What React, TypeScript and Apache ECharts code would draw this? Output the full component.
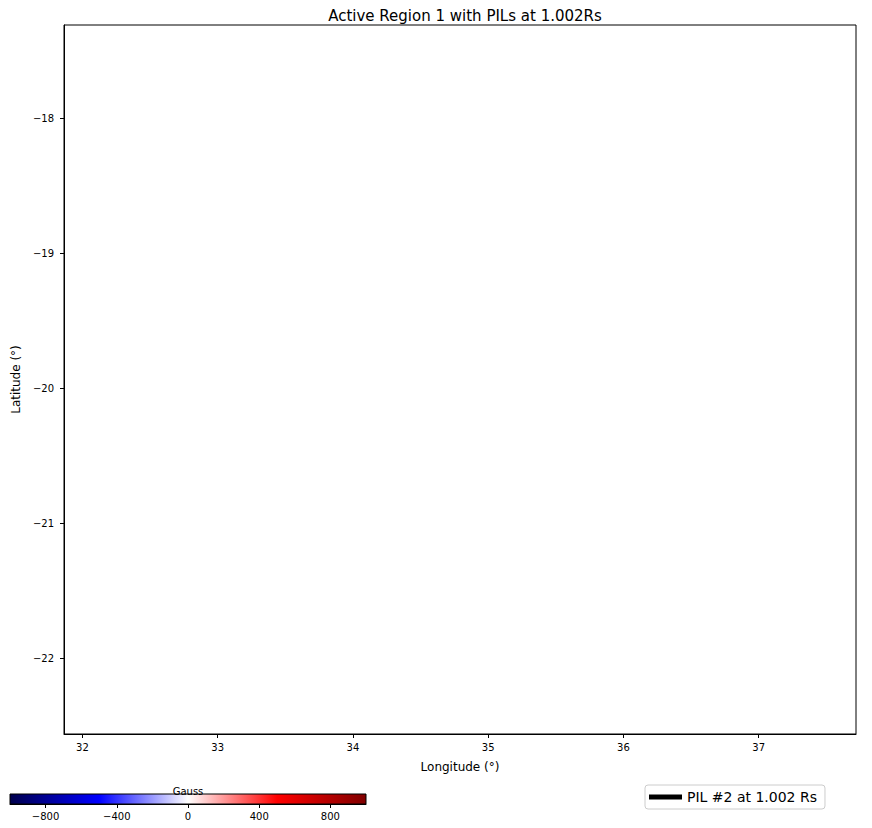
import React, { useEffect, useRef } from "react";
import * as echarts from "echarts";

const titleText = "Active Region 1 with PILs at 1.002Rs";
const xRange = [31.864, 37.72];
const yRange = [-22.561, -17.311];
const xTicks = [32, 33, 34, 35, 36, 37];
const yTicks = [-22, -21, -20, -19, -18];
const cbRange = [-1000, 1000];
const cbTicks = [-800, -400, 0, 400, 800];
const seriesName = "PIL #2 at 1.002 Rs";
const pilX: number[] = [];
const pilY: number[] = [];
const seismicStops = [
  [0, "rgb(0,0,77)"],
  [0.25, "rgb(0,0,255)"],
  [0.5, "rgb(255,255,255)"],
  [0.75, "rgb(255,0,0)"],
  [1, "rgb(128,0,0)"],
];

const FONT = "DejaVu Sans";
const minus = (v: number) => String(v).replace("-", "\u2212");

export default function App() {
  const ref = useRef<HTMLDivElement>(null);
  useEffect(() => {
    if (!ref.current) return;
    const chart = echarts.init(ref.current, null, { renderer: "svg" });
    const axisCommon = {
      axisLine: { show: true, onZero: false, lineStyle: { color: "#000", width: 1 } },
      splitLine: { show: false },
    };
    chart.setOption({
      animation: false,
      backgroundColor: "#fff",
      textStyle: { fontFamily: FONT },
      title: {
        text: titleText,
        left: 460,
        textAlign: "center",
        top: 3,
        textStyle: { fontFamily: FONT, fontSize: 15, fontWeight: "normal", color: "#000" },
      },
      grid: [
        { left: 64, top: 25, width: 792, height: 709, show: true, borderColor: "#000", borderWidth: 1, backgroundColor: "transparent" },
        { left: 10, top: 794, width: 356, height: 10, show: true, borderColor: "#000", borderWidth: 1, backgroundColor: "transparent", z: 5 },
      ],
      xAxis: [
        {
          type: "value",
          gridIndex: 0,
          min: xRange[0],
          max: xRange[1],
          ...axisCommon,
          axisTick: { show: true, inside: false, length: 4, customValues: xTicks, lineStyle: { color: "#000" } },
          axisLabel: { customValues: xTicks, formatter: (v: number) => minus(v), fontSize: 10, color: "#000", margin: 8, fontFamily: FONT },
          name: "Longitude (\u00b0)",
          nameLocation: "middle",
          nameGap: 27,
          nameTextStyle: { fontSize: 12, color: "#000", fontFamily: FONT },
        },
        {
          type: "value",
          gridIndex: 1,
          min: cbRange[0],
          max: cbRange[1],
          z: 10,
          ...axisCommon,
          axisTick: { show: true, inside: false, length: 4, customValues: cbTicks, lineStyle: { color: "#000" } },
          axisLabel: { customValues: cbTicks, formatter: (v: number) => minus(v), fontSize: 10, color: "#000", margin: 7, fontFamily: FONT },
          position: "bottom",
        },
      ],
      yAxis: [
        {
          type: "value",
          gridIndex: 0,
          min: yRange[0],
          max: yRange[1],
          ...axisCommon,
          axisTick: { show: true, inside: false, length: 4, customValues: yTicks, lineStyle: { color: "#000" } },
          axisLabel: { customValues: yTicks, formatter: (v: number) => minus(v), fontSize: 10, color: "#000", margin: 10, fontFamily: FONT },
          name: "Latitude (\u00b0)",
          nameLocation: "middle",
          nameGap: 40,
          nameRotate: 90,
          nameTextStyle: { fontSize: 12, color: "#000", fontFamily: FONT },
        },
        {
          type: "value",
          gridIndex: 1,
          min: 0,
          max: 1,
          show: false,
        },
      ],
      legend: {
        left: 645,
        top: 785,
        orient: "horizontal",
        itemWidth: 33,
        itemHeight: 5,
        itemGap: 8,
        padding: [5, 8, 5, 4],
        borderColor: "#ccc",
        borderWidth: 1,
        borderRadius: 3,
        backgroundColor: "#fff",
        textStyle: { fontSize: 14, color: "#000", fontFamily: FONT },
        data: [{ name: seriesName, icon: "rect", itemStyle: { color: "#000" } }],
      },
      graphic: [
        {
          type: "rect",
          z: 1,
          shape: { x: 10, y: 794, width: 356, height: 10 },
          style: {
            fill: new echarts.graphic.LinearGradient(
              0, 0, 1, 0,
              seismicStops.map(([o, c]) => ({ offset: o as number, color: c as string }))
            ),
          },
        },
        {
          type: "text",
          z: 20,
          x: 188,
          y: 796,
          style: {
            text: "Gauss",
            fontSize: 10,
            fontFamily: FONT,
            fill: "#000",
            align: "center",
            verticalAlign: "bottom",
          },
        },
      ],
      series: [
        {
          name: seriesName,
          type: "line",
          xAxisIndex: 0,
          yAxisIndex: 0,
          data: pilX.map((x, i) => [x, pilY[i]]),
          lineStyle: { color: "#000", width: 4 },
          itemStyle: { color: "#000" },
          showSymbol: false,
        },
      ],
    });
    return () => chart.dispose();
  }, []);
  return <div ref={ref} style={{ width: 872, height: 828, position: "absolute", left: 0, top: 0 }} />;
}
